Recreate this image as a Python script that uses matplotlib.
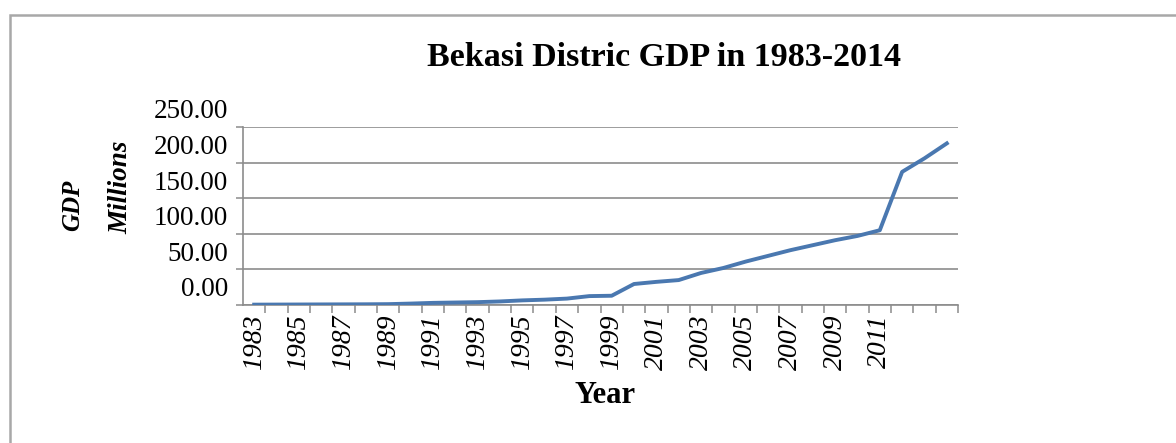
import matplotlib
matplotlib.use("Agg")
import matplotlib.pyplot as plt
import matplotlib.transforms as mtransforms
from matplotlib.patches import Rectangle
from matplotlib.ticker import FixedLocator

years = list(range(1983, 2015))
gdp = [0.5, 0.6, 0.7, 0.8, 0.9, 1.0, 1.2, 2.0, 3.0, 3.5, 4.0, 5.0, 6.5, 7.5, 9.0,
       12.5, 13.0, 29.5, 32.5, 35.0, 45.0, 52.0, 61.0, 69.0, 77.0, 84.0, 91.0,
       97.0, 105.0, 187.0, 206.0, 227.0]
ytick_vals = [0, 50, 100, 150, 200, 250]
ytick_labels = ["0.00", "50.00", "100.00", "150.00", "200.00", "250.00"]
xlabel_years = list(range(1983, 2012, 2))
title = "Bekasi Distric GDP in 1983-2014"

W, H = 1176, 443
fig = plt.figure(figsize=(W / 100, H / 100), dpi=100)
serif = "Liberation Serif"

ax = fig.add_axes([243 / W, 1 - 305 / H, 715 / W, 178 / H])
x = list(range(len(years)))
ax.plot(x, gdp, color="#4a78b0", lw=2.8, solid_joinstyle="round", zorder=3)

ax.set_xlim(-0.5, len(years) - 0.5)
ax.set_ylim(0, 250)
grid_c = "#8c8c8c"
ax.set_yticks(ytick_vals)
ax.set_yticklabels([])
ax.tick_params(axis="y", length=5, width=1.1, color=grid_c, direction="out")
ax.yaxis.grid(True, color=grid_c, lw=1.2)
ax.set_axisbelow(True)

for s in ["top", "right"]:
    ax.spines[s].set_visible(False)
for s in ["left", "bottom"]:
    ax.spines[s].set_color(grid_c)
    ax.spines[s].set_linewidth(1.2)

# x ticks: labels at category centers, tick marks at boundaries
major = [years.index(y) for y in xlabel_years]
ax.xaxis.set_major_locator(FixedLocator(major))
ax.set_xticklabels([str(y) for y in xlabel_years], rotation=90, fontstyle="italic",
                   fontfamily=serif, fontsize=20, va="top", ha="center")
ax.tick_params(axis="x", which="major", length=0, pad=7)
ax.xaxis.set_minor_locator(FixedLocator([i + 0.5 for i in range(len(years))]))
ax.tick_params(axis="x", which="minor", length=6, width=1.1, color=grid_c, direction="out")

# y tick labels, drawn slightly above their gridlines
offset = mtransforms.ScaledTranslation(-15 / 100, 15 / 100, fig.dpi_scale_trans)
for v, lab in zip(ytick_vals, ytick_labels):
    ax.text(0, v, lab, transform=ax.get_yaxis_transform() + offset,
            ha="right", va="center", fontfamily=serif, fontsize=19.5)

fig.text(664 / W, 1 - 66 / H, title, ha="center", va="baseline",
         fontfamily=serif, fontweight="bold", fontsize=24.5)
fig.text(605 / W, 1 - 403 / H, "Year", ha="center", va="baseline",
         fontfamily=serif, fontweight="bold", fontsize=22)
fig.text(73 / W, 1 - 205 / H, "GDP", ha="center", va="center", rotation=90,
         fontfamily=serif, fontweight="bold", fontstyle="italic", fontsize=18)
fig.text(121 / W, 1 - 187 / H, "Millions", ha="center", va="center", rotation=90,
         fontfamily=serif, fontweight="bold", fontstyle="italic", fontsize=19.5)

fig.patches.append(Rectangle((10 / W, -0.2), 2.0, (1 - 15 / H) + 0.2, fill=False,
                             edgecolor="#a8a8a8", lw=1.8, transform=fig.transFigure))

fig.savefig("out.png", dpi=100, facecolor="white")
